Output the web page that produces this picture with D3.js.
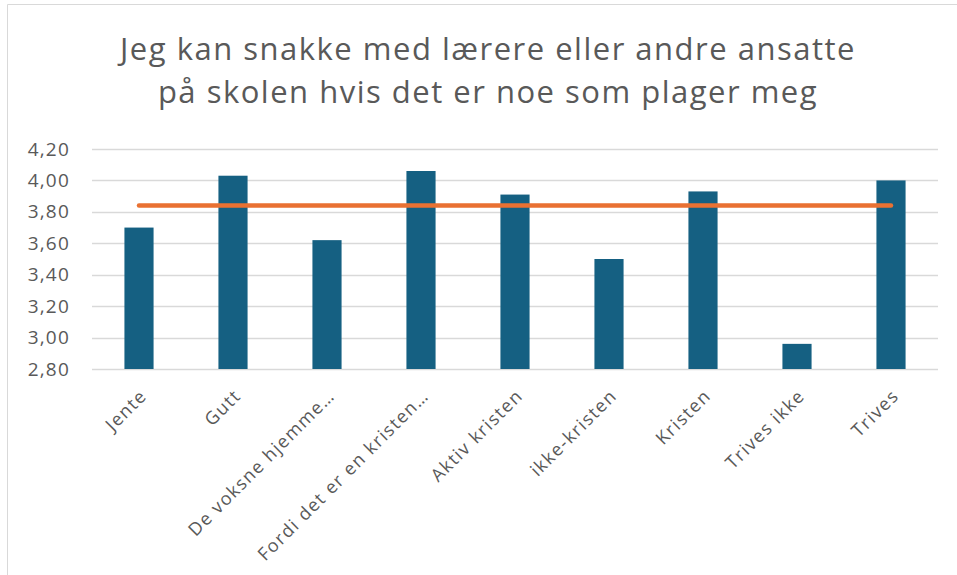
<!DOCTYPE html>
<html><head><meta charset="utf-8">
<script src="https://cdn.jsdelivr.net/npm/d3@7"></script>
<style>html,body{margin:0;padding:0;background:#fff;}svg{display:block;}</style>
</head><body><svg id="c" width="957" height="575"></svg>
<script>
const categories = ["Jente","Gutt","De voksne hjemme…","Fordi det er en kristen…","Aktiv kristen","ikke-kristen","Kristen","Trives ikke","Trives"];
const barValues = [3.70,4.03,3.62,4.06,3.91,3.50,3.93,2.96,4.00];
const lineValues = [3.84,3.84,3.84,3.84,3.84,3.84,3.84,3.84,3.84];
const yTicks = [2.8,3.0,3.2,3.4,3.6,3.8,4.0,4.2];
const titleLines = ["Jeg kan snakke med lærere eller andre ansatte","på skolen hvis det er noe som plager meg"];

const svg = d3.select("#c");
const font = "'Open Sans', 'Noto Sans', sans-serif";
const grey = "#595959";

// frame
svg.append("path").attr("d","M7.5,575 L7.5,4.5 L957,4.5").attr("fill","none").attr("stroke","#d9d9d9").attr("stroke-width",1);

const x = d3.scaleBand().domain(categories).range([92,938]).paddingInner(0.69).paddingOuter(0.345);
const y = d3.scaleLinear().domain([2.8,4.2]).range([369,149]);

// gridlines
svg.append("g").selectAll("line").data(yTicks).join("line")
  .attr("x1",92).attr("x2",938).attr("y1",d=>Math.round(y(d))+0.5).attr("y2",d=>Math.round(y(d))+0.5)
  .attr("stroke","#d9d9d9").attr("stroke-width",1.3);

// y axis labels
const yAxis = d3.axisLeft(y).tickValues(yTicks).tickSize(0).tickPadding(0)
  .tickFormat(d=>d3.format(".2f")(d).replace(".",","));
const gy = svg.append("g").attr("transform","translate(70,0)").call(yAxis);
gy.select(".domain").remove();
gy.selectAll("text").attr("fill",grey).style("font-family",font).style("font-size","19px").style("letter-spacing","1.2px");

// bars
svg.append("g").selectAll("rect").data(barValues).join("rect")
  .attr("x",(d,i)=>x(categories[i])).attr("width",x.bandwidth())
  .attr("y",d=>y(d)).attr("height",d=>y(2.8)-y(d))
  .attr("fill","#156082");

// line
const line = d3.line().x((d,i)=>x(categories[i])+x.bandwidth()/2).y(d=>y(d));
svg.append("path").datum(lineValues).attr("d",line).attr("fill","none")
  .attr("stroke","#E97132").attr("stroke-width",4.5).attr("stroke-linecap","round");

// x labels
const xAxis = d3.axisBottom(x).tickSize(0).tickPadding(0);
const gx = svg.append("g").attr("transform","translate(0,369)").call(xAxis);
gx.select(".domain").remove();
gx.selectAll("text").attr("fill",grey).style("font-family",font).style("font-size","18px").style("letter-spacing","1.4px")
  .attr("text-anchor","end").attr("dy",0).attr("y",0)
  .attr("transform","translate(9,28) rotate(-45)");

// title
svg.append("g").selectAll("text").data(titleLines).join("text")
  .attr("x",488).attr("y",(d,i)=>60+i*43).attr("text-anchor","middle")
  .attr("fill",grey).style("font-family",font).style("font-size","31px").style("letter-spacing","1.5px").text(d=>d);
</script></body></html>
